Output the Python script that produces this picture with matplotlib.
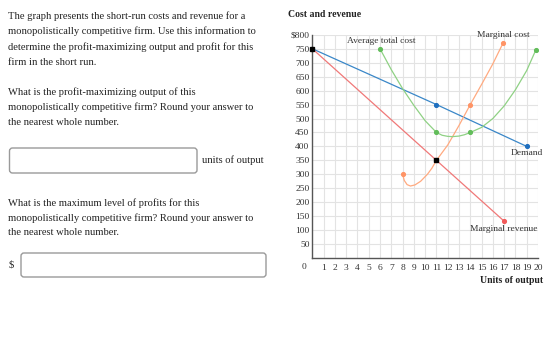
import matplotlib
matplotlib.use('Agg')
import matplotlib.pyplot as plt
from matplotlib.patches import FancyBboxPatch

plt.rcParams['font.family'] = ['Liberation Serif', 'DejaVu Serif']

# data
demand_q = [0, 11, 19]
demand_p = [750, 550, 400]

mr_q = [0, 11, 17]
mr_p = [750, 350, 132]

mc_q = [8.0, 8.15, 8.4, 8.7, 9.1, 9.6, 10.2, 10.6, 11, 12, 13, 14, 15, 16, 16.9]
mc_p = [300, 278, 263, 258, 262, 275, 300, 322, 350, 405, 475, 550, 622, 696, 770]
mc_mark_q = [8.0, 14, 16.9]
mc_mark_p = [300, 550, 770]

atc_q = [6, 7, 8, 9, 10, 11, 11.5, 12, 12.4, 13, 13.5, 14, 15, 16, 17, 18, 19, 19.8]
atc_p = [750, 675, 607, 547, 492, 450, 440, 436, 435, 437, 442, 450, 468, 500, 545, 603, 672, 745]
atc_mark_q = [6, 11, 14, 19.8]
atc_mark_p = [750, 450, 450, 745]

black_q = [0, 11]
black_p = [750, 350]

x_ticks = list(range(1, 21))
y_ticks = list(range(50, 801, 50))
y_labels = ['$800' if v == 800 else str(v) for v in y_ticks]

para1 = ["The graph presents the short-run costs and revenue for a",
         "monopolistically competitive firm. Use this information to",
         "determine the profit-maximizing output and profit for this",
         "firm in the short run."]
para2 = ["What is the profit-maximizing output of this",
         "monopolistically competitive firm? Round your answer to",
         "the nearest whole number."]
para3 = ["What is the maximum level of profits for this",
         "monopolistically competitive firm? Round your answer to",
         "the nearest whole number."]

W, H = 560, 360
fig = plt.figure(figsize=(W / 100, H / 100), dpi=100)

# chart axes (pixel box: x 312..538, y 35..258)
ax = fig.add_axes([312.3 / W, (H - 258) / H, (538 - 312.3) / W, (258 - 34.8) / H])
ax.set_xlim(0, 20)
ax.set_ylim(0, 800)
ax.set_xticks(x_ticks)
ax.set_yticks(y_ticks)
ax.set_yticklabels(y_labels)
ax.tick_params(length=0, labelsize=6.8, colors='#333333')
ax.tick_params(axis='x', pad=4.5)
ax.tick_params(axis='y', pad=2)
ax.grid(True, color='#e3e3e3', lw=0.8)
ax.set_axisbelow(True)
for s in ['top', 'right']:
    ax.spines[s].set_visible(False)
for s in ['left', 'bottom']:
    ax.spines[s].set_color('#555555')
    ax.spines[s].set_linewidth(1)

ax.plot(demand_q, demand_p, color='#3a87c8', lw=0.9)
ax.plot(demand_q[1:], demand_p[1:], 'o', color='#1f6fbf', ms=2.7)
ax.plot(mr_q, mr_p, color='#f07878', lw=0.9)
ax.plot(mr_q[-1:], mr_p[-1:], 'o', color='#f25a5a', ms=2.7)
ax.plot(mc_q, mc_p, color='#ffaa80', lw=0.9)
ax.plot(mc_mark_q, mc_mark_p, 'o', color='#ff9466', ms=2.7)
ax.plot(atc_q, atc_p, color='#8fd184', lw=0.9)
ax.plot(atc_mark_q, atc_mark_p, 'o', color='#62bd5a', ms=2.7)
ax.plot(black_q, black_p, 's', color='black', ms=2.5, clip_on=False, zorder=5)

lab = dict(fontsize=6.8, color='#333333', ha='center', va='center')
ax.text(6.1, 777, 'Average total cost', **lab)
ax.text(16.9, 798, 'Marginal cost', **lab)
ax.text(19.0, 375, 'Demand', **lab)
ax.text(17.0, 103, 'Marginal revenue', **lab)

# overlay in pixel coordinates for the question text and input boxes
ov = fig.add_axes([0, 0, 1, 1])
ov.set_xlim(0, W)
ov.set_ylim(H, 0)
ov.axis('off')
ov.patch.set_visible(False)

txt = dict(fontsize=7.6, color='#222222', ha='left', va='center')
for i, line in enumerate(para1):
    ov.text(8, 15.7 + i * 15.5, line, **txt)
for i, line in enumerate(para2):
    ov.text(8, 91.7 + i * 15.2, line, **txt)
for i, line in enumerate(para3):
    ov.text(8, 203.3 + i * 14.8, line, **txt)

box_style = 'round,pad=0,rounding_size=3'
ov.add_patch(FancyBboxPatch((9.5, 148), 187.5, 25, boxstyle=box_style,
                            fc='white', ec='#9a9a9a', lw=1))
ov.add_patch(FancyBboxPatch((21, 253), 245, 24, boxstyle=box_style,
                            fc='white', ec='#9a9a9a', lw=1))
ov.text(202, 160.5, 'units of output', **txt)
ov.text(9, 265, '$', **txt)

ov.text(288, 14.7, 'Cost and revenue', fontsize=7, fontweight='bold',
        color='#222222', ha='left', va='center')
ov.text(543, 280.7, 'Units of output', fontsize=7, fontweight='bold',
        color='#222222', ha='right', va='center')
ov.text(304, 266.7, '0', fontsize=6.8, color='#333333', ha='center', va='center')

fig.savefig('out.png', dpi=100)
